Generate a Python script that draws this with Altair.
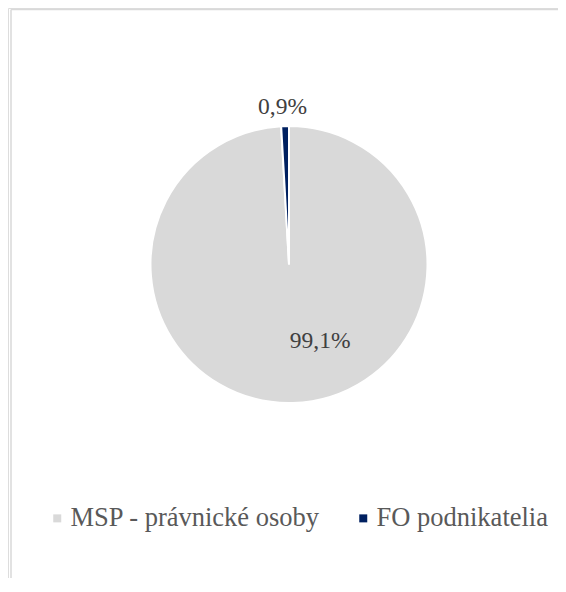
import altair as alt
import pandas as pd

categories = ["MSP - právnické osoby", "FO podnikatelia"]
shares = [99.1, 0.9]
labels = ["99,1%", "0,9%"]
colors = ["#D9D9D9", "#002060"]
order = [0, 1]

df = pd.DataFrame({"cat": categories, "share": shares, "label": labels, "ord": order})

FONT = "Liberation Serif"
CX, CY = 281, 256.5
R = 138.5

theta_scale = alt.Scale(domain=[0, 100])

pie = alt.Chart(df).mark_arc(outerRadius=R, stroke="white", strokeWidth=2).encode(
    theta=alt.Theta("share:Q", stack=True, scale=theta_scale),
    order=alt.Order("ord:Q"),
    color=alt.Color(
        "cat:N",
        scale=alt.Scale(domain=categories, range=colors),
        sort=categories,
        legend=alt.Legend(
            title=None,
            orient="none",
            legendX=36,
            legendY=497,
            direction="horizontal",
            symbolType="square",
            symbolSize=64,
            symbolStrokeWidth=0,
            labelFont=FONT,
            labelFontSize=26.5,
            labelColor="#595959",
            labelOffset=0,
            columnPadding=29,
            labelLimit=400,
        ),
    ),
    x=alt.value(CX),
    y=alt.value(CY),
)


def label_layer(idx, radius, dx=0):
    return (
        alt.Chart(df)
        .transform_window(cum="sum(share)", sort=[alt.SortField("ord")])
        .transform_calculate(mid="datum.cum - datum.share / 2")
        .transform_filter(f"datum.ord == {idx}")
        .mark_text(radius=radius, dx=dx, font=FONT, fontSize=23.5, color="#404040")
        .encode(
            theta=alt.Theta("mid:Q", stack=None, scale=theta_scale),
            text="label:N",
            x=alt.value(CX),
            y=alt.value(CY),
        )
    )


small_label = label_layer(1, 158, dx=-2)
big_label = label_layer(0, 77, dx=29)

one = pd.DataFrame({"a": [0]})
left_border = alt.Chart(one).mark_rule(color="#D9D9D9", strokeWidth=1.5).encode(
    x=alt.value(3), y=alt.value(1.5), y2=alt.value(600)
)
top_border = alt.Chart(one).mark_rule(color="#D9D9D9", strokeWidth=1.5).encode(
    x=alt.value(3), x2=alt.value(600), y=alt.value(1.5)
)

chart = (
    alt.layer(left_border, top_border, pie, small_label, big_label)
    .properties(
        width=550,
        height=570,
        autosize=alt.AutoSizeParams(type="none"),
        padding=0,
    )
    .configure_view(strokeWidth=0, strokeOpacity=0)
    .configure(background="white")
)

chart.save("out.html", embed_options={"renderer": "svg", "actions": False})
